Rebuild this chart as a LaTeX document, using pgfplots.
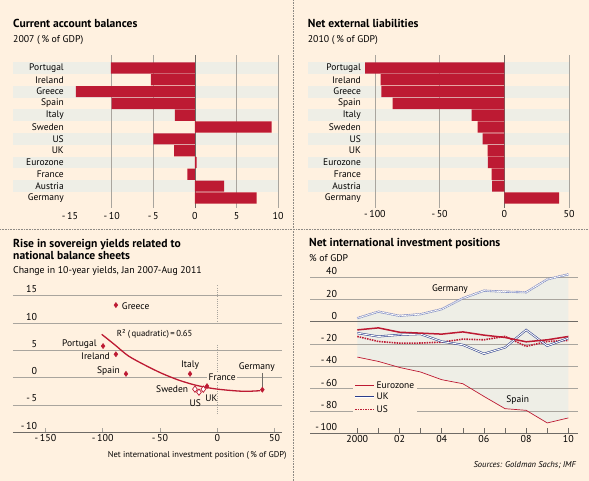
\documentclass[border=0pt]{standalone}
\usepackage{fontspec}
\setmainfont{PT Sans}
\usepackage{pgfplots}
\pgfplotsset{compat=1.18}
\definecolor{cream}{HTML}{FFF1E0}
\definecolor{band}{HTML}{EEEEE6}
\definecolor{barred}{HTML}{BD1A33}
\definecolor{gridc}{HTML}{A9A59E}
\definecolor{axisc}{HTML}{6F6B66}
\definecolor{ukblue}{HTML}{2B3D8B}
\definecolor{germblue}{HTML}{6E7CBD}
\definecolor{sepc}{HTML}{8E8A84}
\newcommand\lbl{\fontsize{9.5}{11}\selectfont}
\newcommand\tck{\fontsize{10}{12}\selectfont}
\newcommand\ttl{\fontsize{11.6}{13}\selectfont\bfseries}
\newcommand\sbt{\fontsize{9.8}{11}\selectfont}
\begin{document}
\begin{tikzpicture}
\fill[cream] (0pt,0pt) rectangle (589pt,481pt);
\draw[sepc, line width=0.7pt, dash pattern=on 0.7pt off 0.9pt] (293.5pt,0pt) -- (293.5pt,481pt);
\draw[sepc, line width=0.7pt, dash pattern=on 0.7pt off 0.9pt] (0pt,251.5pt) -- (589pt,251.5pt);

% titles
\node[anchor=base west, inner sep=0pt, font=\ttl] at (13pt,453.7pt) {Current account balances};
\node[anchor=base west, inner sep=0pt, font=\sbt] at (13pt,438.7pt) {2007 (\,\% of GDP)};
\node[anchor=base west, inner sep=0pt, font=\ttl] at (307.7pt,453.7pt) {Net external liabilities};
\node[anchor=base west, inner sep=0pt, font=\sbt] at (307.7pt,438.7pt) {2010 (\,\% of GDP)};
\node[anchor=base west, inner sep=0pt, font=\ttl] at (13pt,233.7pt) {Rise in sovereign yields related to};
\node[anchor=base west, inner sep=0pt, font=\ttl] at (13pt,221.7pt) {national balance sheets};
\node[anchor=base west, inner sep=0pt, font=\sbt] at (13pt,207.7pt) {Change in 10-year yields, Jan 2007-Aug 2011};
\node[anchor=base west, inner sep=0pt, font=\ttl] at (309pt,234.3pt) {Net international investment positions};
\node[anchor=base west, inner sep=0pt, font=\sbt] at (309pt,219.3pt) {\% of GDP};
\node[anchor=base east, inner sep=0pt, font=\fontsize{8.5}{10}\selectfont\itshape] at (576pt,13.7pt) {Sources: Goldman Sachs; IMF};
\node[anchor=base east, inner sep=0pt, font=\fontsize{8.5}{10}\selectfont] at (286.7pt,23.3pt) {Net international investment position (\,\% of GDP)};

% ---------- Panel 1 ----------
\begin{axis}[
  at={(13pt,273pt)}, anchor=south west, scale only axis,
  width=266pt, height=153pt,
  xmin=-21.85, xmax=10.1, ymin=-0.85, ymax=12.1,
  axis line style={draw=none}, tick style={draw=none},
  xtick={-15,-10,-5,0,5,10},
  xticklabels={-\,15,-\,10,-\,5,0,5,10},
  ytick=\empty,
  xticklabel style={font=\tck, inner sep=1pt, yshift=-3.5pt},
  clip=false,
]
\fill[band] (axis cs:-21.85,10.5) rectangle (axis cs:10.1,11.5);
\fill[band] (axis cs:-21.85,8.5) rectangle (axis cs:10.1,9.5);
\fill[band] (axis cs:-21.85,6.5) rectangle (axis cs:10.1,7.5);
\fill[band] (axis cs:-21.85,4.5) rectangle (axis cs:10.1,5.5);
\fill[band] (axis cs:-21.85,2.5) rectangle (axis cs:10.1,3.5);
\fill[band] (axis cs:-21.85,0.5) rectangle (axis cs:10.1,1.5);
\draw[gridc, line width=0.6pt] (axis cs:-10,-0.85) -- (axis cs:-10,12.1);
\draw[gridc, line width=0.6pt] (axis cs:-5,-0.85) -- (axis cs:-5,12.1);
\draw[gridc, line width=0.6pt] (axis cs:5,-0.85) -- (axis cs:5,12.1);
\draw[gridc, line width=0.6pt] (axis cs:10,-0.85) -- (axis cs:10,12.1);
\draw[axisc, line width=0.7pt] (axis cs:0,-0.85) -- (axis cs:0,12.1);
\addplot[xbar, bar width=11.2pt, fill=barred, draw=none] coordinates {
 (-10.1,11) (-5.3,10) (-14.3,9) (-10.0,8) (-2.4,7) (9.2,6)
 (-5.0,5) (-2.5,4) (0.2,3) (-0.9,2) (3.5,1) (7.4,0)};
\node[anchor=east, inner sep=0pt, font=\lbl] at (axis cs:-15.73,11) {Portugal};
\node[anchor=east, inner sep=0pt, font=\lbl] at (axis cs:-15.73,10) {Ireland};
\node[anchor=east, inner sep=0pt, font=\lbl] at (axis cs:-15.73,9) {Greece};
\node[anchor=east, inner sep=0pt, font=\lbl] at (axis cs:-15.73,8) {Spain};
\node[anchor=east, inner sep=0pt, font=\lbl] at (axis cs:-15.73,7) {Italy};
\node[anchor=east, inner sep=0pt, font=\lbl] at (axis cs:-15.73,6) {Sweden};
\node[anchor=east, inner sep=0pt, font=\lbl] at (axis cs:-15.73,5) {US};
\node[anchor=east, inner sep=0pt, font=\lbl] at (axis cs:-15.73,4) {UK};
\node[anchor=east, inner sep=0pt, font=\lbl] at (axis cs:-15.73,3) {Eurozone};
\node[anchor=east, inner sep=0pt, font=\lbl] at (axis cs:-15.73,2) {France};
\node[anchor=east, inner sep=0pt, font=\lbl] at (axis cs:-15.73,1) {Austria};
\node[anchor=east, inner sep=0pt, font=\lbl] at (axis cs:-15.73,0) {Germany};
\end{axis}

% ---------- Panel 2 ----------
\begin{axis}[
  at={(307.7pt,273pt)}, anchor=south west, scale only axis,
  width=261.3pt, height=153pt,
  xmin=-151.9, xmax=50, ymin=-0.85, ymax=12.1,
  axis line style={draw=none}, tick style={draw=none},
  xtick={-100,-50,0,50},
  xticklabels={-\,100,-\,50,0,50},
  ytick=\empty,
  xticklabel style={font=\tck, inner sep=1pt, yshift=-1.5pt},
  clip=false,
]
\fill[band] (axis cs:-151.9,10.5) rectangle (axis cs:50,11.5);
\fill[band] (axis cs:-151.9,8.5) rectangle (axis cs:50,9.5);
\fill[band] (axis cs:-151.9,6.5) rectangle (axis cs:50,7.5);
\fill[band] (axis cs:-151.9,4.5) rectangle (axis cs:50,5.5);
\fill[band] (axis cs:-151.9,2.5) rectangle (axis cs:50,3.5);
\fill[band] (axis cs:-151.9,0.5) rectangle (axis cs:50,1.5);
\draw[gridc, line width=0.6pt] (axis cs:-100,-0.85) -- (axis cs:-100,12.1);
\draw[gridc, line width=0.6pt] (axis cs:-50,-0.85) -- (axis cs:-50,12.1);
\draw[gridc, line width=0.6pt] (axis cs:50,-0.85) -- (axis cs:50,12.1);
\draw[axisc, line width=0.7pt] (axis cs:0,-0.85) -- (axis cs:0,12.1);
\addplot[xbar, bar width=11.2pt, fill=barred, draw=none] coordinates {
 (-107.6,11) (-95.5,10) (-95.0,9) (-86.3,8) (-25.2,7) (-20.6,6)
 (-16.7,5) (-12.8,4) (-12.6,3) (-9.8,2) (-9.5,1) (42.3,0)};
\node[anchor=east, inner sep=0pt, font=\lbl] at (axis cs:-110.7,11) {Portugal};
\node[anchor=east, inner sep=0pt, font=\lbl] at (axis cs:-110.7,10) {Ireland};
\node[anchor=east, inner sep=0pt, font=\lbl] at (axis cs:-110.7,9) {Greece};
\node[anchor=east, inner sep=0pt, font=\lbl] at (axis cs:-110.7,8) {Spain};
\node[anchor=east, inner sep=0pt, font=\lbl] at (axis cs:-110.7,7) {Italy};
\node[anchor=east, inner sep=0pt, font=\lbl] at (axis cs:-110.7,6) {Sweden};
\node[anchor=east, inner sep=0pt, font=\lbl] at (axis cs:-110.7,5) {US};
\node[anchor=east, inner sep=0pt, font=\lbl] at (axis cs:-110.7,4) {UK};
\node[anchor=east, inner sep=0pt, font=\lbl] at (axis cs:-110.7,3) {Eurozone};
\node[anchor=east, inner sep=0pt, font=\lbl] at (axis cs:-110.7,2) {France};
\node[anchor=east, inner sep=0pt, font=\lbl] at (axis cs:-110.7,1) {Austria};
\node[anchor=east, inner sep=0pt, font=\lbl] at (axis cs:-110.7,0) {Germany};
\end{axis}

% ---------- Panel 3 ----------
\begin{axis}[
  at={(13pt,48.7pt)}, anchor=south west, scale only axis,
  width=268.7pt, height=136.5pt,
  xmin=-178.3, xmax=56.2, ymin=-10, ymax=15, clip=false,
  axis x line*=bottom, axis y line=none,
  axis line style={draw=axisc, line width=0.8pt, -},
  xtick={-150,-100,-50,0,50}, xticklabels={-\,150,-\,100,-\,50,0,50},
  tick align=inside, major tick length=4pt, tick style={gridc, line width=0.6pt},
  ytick=\empty,
  xticklabel style={font=\tck, inner sep=1pt, yshift=-1pt},
]
\draw[gridc, line width=0.6pt] (axis cs:-178.3,15) -- (axis cs:56.2,15);
\draw[gridc, line width=0.6pt] (axis cs:-178.3,10) -- (axis cs:56.2,10);
\draw[gridc, line width=0.6pt] (axis cs:-178.3,5) -- (axis cs:56.2,5);
\draw[gridc, line width=0.6pt] (axis cs:-178.3,0) -- (axis cs:56.2,0);
\draw[gridc, line width=0.6pt] (axis cs:-178.3,-5) -- (axis cs:56.2,-5);
\draw[gridc, line width=0.9pt, dash pattern=on 1pt off 1.2pt] (axis cs:0,16.9) -- (axis cs:0,10.2);
\draw[gridc, line width=0.9pt, dash pattern=on 1pt off 1.2pt] (axis cs:0,6) -- (axis cs:0,-6.5);
\node[anchor=base east, inner sep=0pt, font=\tck] at ([xshift=24.3pt,yshift=3pt]axis cs:-178.3,15) {15};
\node[anchor=base east, inner sep=0pt, font=\tck] at ([xshift=24.3pt,yshift=3pt]axis cs:-178.3,10) {10};
\node[anchor=base east, inner sep=0pt, font=\tck] at ([xshift=24.3pt,yshift=3pt]axis cs:-178.3,5) {5};
\node[anchor=base east, inner sep=0pt, font=\tck] at ([xshift=24.3pt,yshift=3pt]axis cs:-178.3,0) {0};
\node[anchor=base east, inner sep=0pt, font=\tck] at ([xshift=24.3pt,yshift=3pt]axis cs:-178.3,-5) {-\,5};
\node[anchor=base east, inner sep=0pt, font=\tck] at ([xshift=24.3pt,yshift=3pt]axis cs:-178.3,-10) {-\,10};
\addplot[barred, line width=1.3pt, smooth] coordinates {
 (-100.9,7.95) (-89.3,6.0) (-77.7,4.0) (-63.1,2.3) (-48.5,0.8) (-34,-0.42)
 (-19.5,-1.34) (-4.9,-1.95) (9.6,-2.3) (24.2,-2.5) (37.3,-2.38)};
\draw[axisc, line width=0.6pt] (axis cs:39.3,0.9) -- (axis cs:39.3,-1.7);
\node[anchor=west, inner sep=1.5pt, fill=cream, font=\lbl] at (axis cs:-9.0,0.1) {France};
\addplot[only marks, mark=diamond*, mark size=2.6pt, mark options={fill=barred, draw=barred}] coordinates {
 (-88.5,13.3) (-99.7,5.8) (-88.5,4.3) (-79.7,0.7) (-23.8,0.7) (-9,-1.55) (39.3,-2.2)};
\addplot[only marks, mark=diamond*, mark size=3.2pt, mark options={fill=white, draw=barred, line width=0.7pt}] coordinates {
 (-19.5,-2.1) (-16,-2.65) (-12.2,-2.1)};
\node[anchor=west, inner sep=0pt, font=\lbl] at (axis cs:-83.4,13.1) {Greece};
\node[anchor=east, inner sep=0pt, font=\lbl] at (axis cs:-105.2,6.1) {Portugal};
\node[anchor=east, inner sep=0pt, font=\lbl] at (axis cs:-93.6,4.0) {Ireland};
\node[anchor=east, inner sep=0pt, font=\lbl] at (axis cs:-84.9,1.2) {Spain};
\node[inner sep=0pt, font=\lbl] at (axis cs:-23.8,2.3) {Italy};
\node[inner sep=1pt, fill=cream, font=\lbl] at (axis cs:34.4,2.0) {Germany};
\node[anchor=east, inner sep=0pt, font=\lbl] at (axis cs:-25.3,-2.1) {Sweden};
\node[inner sep=0pt, font=\lbl] at (axis cs:-19.2,-4.6) {US};
\node[anchor=west, inner sep=0pt, font=\lbl] at (axis cs:-10.5,-3.8) {UK};
\node[anchor=west, inner sep=0pt, font=\fontsize{8.7}{10}\selectfont] at (axis cs:-87.8,8.1) {R² (\,quadratic)\,=\,0.65};
\end{axis}

% ---------- Panel 4 ----------
\begin{axis}[
  at={(310pt,47.7pt)}, anchor=south west, scale only axis,
  width=268.3pt, height=156pt,
  xmin=1997.76, xmax=2010.47, ymin=-100, ymax=40, clip=false,
  axis x line*=bottom, axis y line=none,
  axis line style={draw=axisc, line width=0.8pt, -},
  xtick={2000,2001,2002,2003,2004,2005,2006,2007,2008,2009,2010},
  xticklabels={2000,,02,,04,,06,,08,,10},
  tick align=inside, major tick length=5pt, tick style={axisc, line width=0.6pt},
  ytick=\empty,
  xticklabel style={font=\tck, inner sep=1pt, yshift=-1pt},
  legend style={at={(axis description cs:0.16,0.35)}, anchor=north west, fill=cream, draw=none,
    inner sep=1pt, row sep=0.8pt, font=\lbl, nodes={inner sep=1.5pt}},
  legend cell align=left,
  legend image code/.code={\draw[#1] (0pt,0pt) -- (19pt,0pt);},
]
\addplot[fill=band, draw=none, forget plot] coordinates {
 (2000,3.3) (2001,9.2) (2002,5.4) (2003,6.9) (2004,11.4) (2005,21.2) (2006,28) (2007,27.1) (2008,26.6) (2009,38.2) (2010,42.7)
 (2010,-86.2) (2009,-90.7) (2008,-79.4) (2007,-77.9) (2006,-66.9) (2005,-55.5) (2004,-51.9) (2003,-45) (2002,-40.9) (2001,-35.5) (2000,-31.6)};
\draw[gridc, line width=0.6pt] (axis cs:1997.76,40) -- (axis cs:2010.47,40);
\draw[gridc, line width=0.6pt] (axis cs:1997.76,20) -- (axis cs:2010.47,20);
\draw[gridc, line width=0.6pt] (axis cs:1997.76,-20) -- (axis cs:2010.47,-20);
\draw[gridc, line width=0.6pt] (axis cs:1997.76,-40) -- (axis cs:2010.47,-40);
\draw[gridc, line width=0.6pt] (axis cs:1997.76,-60) -- (axis cs:2010.47,-60);
\draw[gridc, line width=0.6pt] (axis cs:1997.76,-80) -- (axis cs:2010.47,-80);
\draw[axisc, line width=1.1pt] (axis cs:1997.76,0) -- (axis cs:2010.47,0);
\node[anchor=base east, inner sep=0pt, font=\tck] at ([xshift=27.3pt,yshift=2.5pt]axis cs:1997.76,40) {40};
\node[anchor=base east, inner sep=0pt, font=\tck] at ([xshift=27.3pt,yshift=2.5pt]axis cs:1997.76,20) {20};
\node[anchor=base east, inner sep=0pt, font=\tck] at ([xshift=27.3pt,yshift=2.5pt]axis cs:1997.76,0) {0};
\node[anchor=base east, inner sep=0pt, font=\tck] at ([xshift=27.3pt,yshift=2.5pt]axis cs:1997.76,-20) {-\,20};
\node[anchor=base east, inner sep=0pt, font=\tck] at ([xshift=27.3pt,yshift=2.5pt]axis cs:1997.76,-40) {-\,40};
\node[anchor=base east, inner sep=0pt, font=\tck] at ([xshift=27.3pt,yshift=2.5pt]axis cs:1997.76,-60) {-\,60};
\node[anchor=base east, inner sep=0pt, font=\tck] at ([xshift=27.3pt,yshift=2.5pt]axis cs:1997.76,-80) {-\,80};
\node[anchor=base east, inner sep=0pt, font=\tck] at ([xshift=27.3pt,yshift=2.5pt]axis cs:1997.76,-100) {-\,100};
% Germany
\addplot[germblue, line width=0.6pt, double=white, double distance=0.9pt, dash pattern=on 1.6pt off 0.6pt, forget plot] coordinates {
 (2000,3.3) (2001,9.2) (2002,5.4) (2003,6.9) (2004,11.4) (2005,21.2) (2006,28) (2007,27.1) (2008,26.6) (2009,38.2) (2010,42.7)};
% Spain
\addplot[barred, line width=0.7pt, forget plot] coordinates {
 (2000,-31.6) (2001,-35.5) (2002,-40.9) (2003,-45) (2004,-51.9) (2005,-55.5) (2006,-66.9) (2007,-77.9) (2008,-79.4) (2009,-90.7) (2010,-86.2)};
% US
\addplot[barred, line width=1.6pt, dash pattern=on 1.5pt off 1pt, forget plot] coordinates {
 (2000,-13.1) (2001,-17.6) (2002,-19.1) (2003,-19) (2004,-18.2) (2005,-15.5) (2006,-16.1) (2007,-13) (2008,-22) (2009,-17.6) (2010,-16.7)};
% UK
\addplot[ukblue, line width=0.55pt, double=white, double distance=0.9pt, forget plot] coordinates {
 (2000,-10.1) (2001,-13.1) (2002,-11.6) (2003,-11) (2004,-17.6) (2005,-20.6) (2006,-28.6) (2007,-23) (2008,-7.2) (2009,-21.5) (2010,-14.6)};
% Eurozone
\addplot[barred, line width=1.5pt, forget plot] coordinates {
 (2000,-7.2) (2001,-5.4) (2002,-9.3) (2003,-10.1) (2004,-11) (2005,-9) (2006,-11.9) (2007,-14) (2008,-17.9) (2009,-16.1) (2010,-13.1)};
\node[inner sep=0pt, font=\lbl] at (axis cs:2004.39,29.4) {Germany};
\node[inner sep=0pt, font=\lbl] at (axis cs:2007.6,-70.0) {Spain};
\addlegendimage{barred, line width=1.5pt}
\addlegendentry{Eurozone}
\addlegendimage{ukblue, line width=0.55pt, double=white, double distance=0.9pt}
\addlegendentry{UK}
\addlegendimage{barred, line width=1.6pt, dash pattern=on 1.5pt off 1pt}
\addlegendentry{US}
\end{axis}
\pgfresetboundingbox
\path[use as bounding box] (0pt,0pt) rectangle (589pt,481pt);
\end{tikzpicture}
\end{document}
